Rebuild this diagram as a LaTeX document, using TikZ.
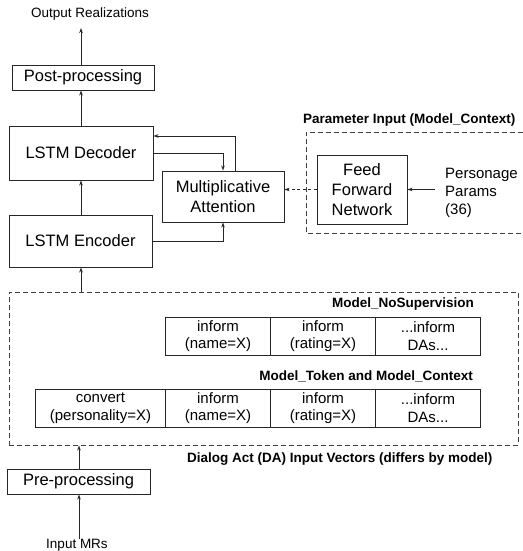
\documentclass[tikz,border=0pt]{standalone}
\usepackage{fontspec}
\setmainfont{Liberation Sans}
\usetikzlibrary{arrows.meta}
\begin{document}
\begin{tikzpicture}[x=1pt,y=-1pt,
  box/.style={draw=black!85,line width=0.9pt,rectangle,inner sep=0pt,align=center,
    font=\fontsize{16.5}{20}\selectfont},
  cell/.style={draw=black!85,line width=0.9pt,rectangle,inner sep=0pt,align=center,
    minimum height=38pt,font=\fontsize{15}{17.5}\selectfont},
  lbl/.style={inner sep=0pt,font=\fontsize{13.5}{16}\selectfont},
  blbl/.style={inner sep=0pt,font=\fontsize{13.5}{16}\selectfont\bfseries},
  dashbox/.style={draw=black!75,line width=0.9pt,dash pattern=on 5pt off 3pt,inner sep=0pt},
  arr/.style={draw=black!85,line width=0.9pt,-{Stealth[length=5pt,width=3.5pt]}}
]
\useasboundingbox (0,0) rectangle (522,551);

% top chain
\node[lbl] (out) at (90,14) {Output Realizations};
\node[box,minimum width=142pt,minimum height=25pt] (post) at (83,77.5) {Post-processing};
\node[box,minimum width=144pt,minimum height=54pt] (dec) at (81,153) {LSTM Decoder};
\node[box,minimum width=143pt,minimum height=52pt] (enc) at (80.5,241) {LSTM Encoder};
\node[box,minimum width=122pt,minimum height=51pt] (att) at (223,196.5) {Multiplicative\\Attention};
\coordinate (xa) at (81,0);
\coordinate (xb) at (79,0);
\coordinate (xr) at (235,136);
\coordinate (otip) at (81,28);

\draw[arr] (post.north -| xa) -- (otip);
\draw[arr] (dec.north -| xa) -- (post.south -| xa);
\draw[arr] (enc.north -| xa) -- (dec.south -| xa);
\draw[arr] (dec.east) -| (att.north);
\draw[arr] (att.north -| xr) |- (dec.east |- xr);
\draw[arr] (enc.east) -| (att.south);

% parameter input
\node[blbl,anchor=west] (plbl) at (303,120) {Parameter Input (Model\_Context)};
\draw[dashbox] (523,132) -| (306,233) -- (523,233);
\node[box,minimum width=90pt,minimum height=69pt] (ffn) at (362,189.5) {Feed\\Forward\\Network};
\node[anchor=west,inner sep=0pt,align=left,font=\fontsize{15}{18}\selectfont] (pers) at (445,193) {Personage\\Params\\(36)};
\coordinate (pa) at (435,189.5);
\draw[arr] (pa) -- (ffn.east);
\draw[arr,dash pattern=on 3pt off 2.5pt] (ffn.west) -- (att.east |- ffn.west);

% DA input vectors
\node[dashbox,minimum width=509pt,minimum height=153pt] (da) at (263.5,368.5) {};
\node[blbl,anchor=east] (nosup) at (474,304) {Model\_NoSupervision};
\node[cell,minimum width=105pt] (t1) at (218,336) {inform\\(name=X)};
\node[cell,minimum width=105pt] (t2) at (323,336) {inform\\(rating=X)};
\node[cell,minimum width=105pt] (t3) at (428,336) {...inform\\DAs...};
\node[blbl,anchor=east] (tok) at (473,376) {Model\_Token and Model\_Context};
\node[cell,minimum width=130pt] (b0) at (100.5,408) {convert\\(personality=X)};
\node[cell,minimum width=105pt] (b1) at (218,408) {inform\\(name=X)};
\node[cell,minimum width=105pt] (b2) at (323,408) {inform\\(rating=X)};
\node[cell,minimum width=105pt] (b3) at (428,408) {...inform\\DAs...};
\node[blbl,anchor=west] (dalbl) at (187,459) {Dialog Act (DA) Input Vectors (differs by model)};
\draw[arr] (da.north -| xa) -- (enc.south -| xa);

% bottom chain
\node[box,minimum width=143pt,minimum height=25pt] (pre) at (78.5,481.5) {Pre-processing};
\node[lbl] (inmr) at (77,545) {Input MRs};
\draw[arr] (pre.north -| xb) -- (da.south -| xb);
\draw[arr] (inmr.north -| xb) -- (pre.south -| xb);
\end{tikzpicture}
\end{document}
